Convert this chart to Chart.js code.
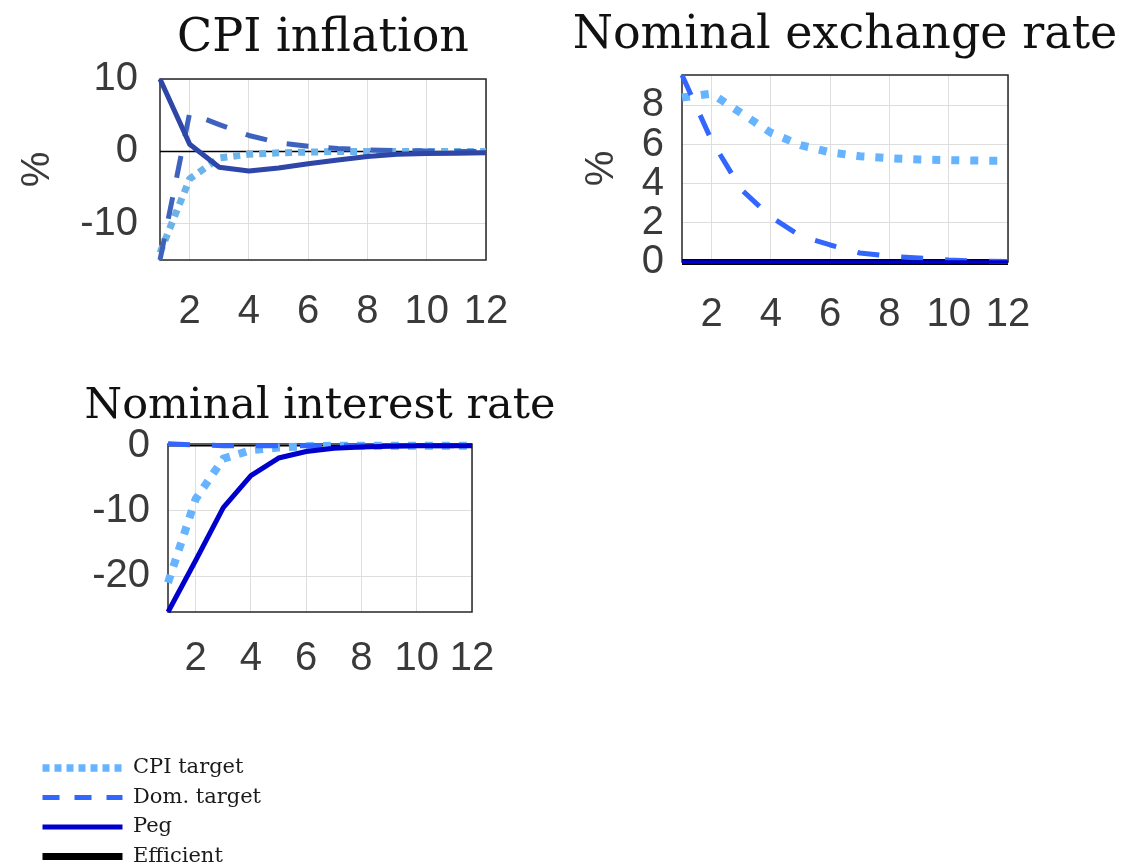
<!DOCTYPE html>
<html><head><meta charset="utf-8">
<script src="https://cdn.jsdelivr.net/npm/chart.js@4.4.1/dist/chart.umd.min.js"></script>
<style>
html,body{margin:0;padding:0;background:#fff;width:1122px;height:866px;overflow:hidden;position:relative;}
canvas{position:absolute;display:block;}
</style></head><body>
<canvas id="c1" width="646" height="345" style="left:0px;top:0px;width:646px;height:345px"></canvas>
<canvas id="c2" width="600" height="345" style="left:545px;top:0px;width:600px;height:345px"></canvas>
<canvas id="c3" width="640" height="310" style="left:0px;top:370px;width:640px;height:310px"></canvas>
<canvas id="c4" width="600" height="140" style="left:34px;top:749px;width:600px;height:140px"></canvas>
<script>
// ---------- data ----------
const periods = [1, 2, 3, 4, 5, 6, 7, 8, 9, 10, 11, 12];
const xTickValues = [2, 4, 6, 8, 10, 12];
const seriesNames = ['CPI target', 'Dom. target', 'Peg', 'Efficient'];

// CPI inflation (%)
const cpiInflation_CPItarget = [-14, -3.8, -0.9, -0.4, -0.2, -0.1, 0, 0, 0, 0, 0, 0];
const cpiInflation_DomTarget = [-15, 5.3, 3.7, 2.2, 1.2, 0.7, 0.4, 0.2, 0.1, 0.05, 0, 0];
const cpiInflation_Peg = [10, 1, -2.2, -2.7, -2.3, -1.7, -1.2, -0.7, -0.4, -0.3, -0.25, -0.2];
const cpiInflation_Efficient = [0, 0, 0, 0, 0, 0, 0, 0, 0, 0, 0, 0];
const cpiInflationTicks = [-10, 0, 10];

// Nominal exchange rate (%)
const exRate_CPItarget = [8.4, 8.6, 7.6, 6.6, 5.97, 5.6, 5.4, 5.3, 5.24, 5.2, 5.18, 5.17];
const exRate_DomTarget = [9.55, 6.2, 3.7, 2.3, 1.33, 0.87, 0.46, 0.3, 0.2, 0.1, 0.05, 0.02];
const exRate_Peg = [0, 0, 0, 0, 0, 0, 0, 0, 0, 0, 0, 0];
const exRate_Efficient = [0, 0, 0, 0, 0, 0, 0, 0, 0, 0, 0, 0];
const exRateTicks = [0, 2, 4, 6, 8];

// Nominal interest rate
const intRate_CPItarget = [-21, -8.2, -2.0, -0.7, -0.3, -0.1, 0, 0, 0, 0, 0, 0];
const intRate_DomTarget = [0.3, 0.1, 0, 0, 0, 0, 0, 0, 0, 0, 0, 0];
const intRate_Peg = [-25.5, -17.6, -9.5, -4.6, -1.9, -0.9, -0.4, -0.2, -0.1, 0, 0, 0];
const intRate_Efficient = [0, 0, 0, 0, 0, 0, 0, 0, 0, 0, 0, 0];
const intRateTicks = [-20, -10, 0];

// ---------- helpers ----------
const pts = arr => arr.map((v, i) => ({x: periods[i], y: v}));
const TICK_FONT = {family: 'Liberation Sans, Arial, sans-serif', size: 40};
const TICK_COLOR = '#3a3a3a';

const framePlugin = {
  id: 'frame',
  beforeDatasetsDraw(chart) {
    const a = chart.chartArea; const ctx = chart.ctx;
    ctx.save(); ctx.strokeStyle = '#262626'; ctx.lineWidth = 1.5;
    ctx.strokeRect(a.left, a.top, a.right - a.left, a.bottom - a.top);
    ctx.restore();
  }
};

function makePanel(id, p) {
  const ds = (label, data, color, width, dash, order) => ({
    label, data: pts(data), borderColor: color, backgroundColor: color,
    borderWidth: width, borderDash: dash, borderCapStyle: 'butt', borderJoinStyle: 'round',
    pointRadius: 0, tension: 0, fill: false, order, clip: 4
  });
  return new Chart(document.getElementById(id), {
    type: 'line',
    data: {datasets: [
      ds(seriesNames[0], p.cpi, p.colors[0], p.widths[0], p.dotDash, 2),
      ds(seriesNames[1], p.dom, p.colors[1], p.widths[1], p.dashDash, 1),
      ds(seriesNames[2], p.peg, p.colors[2], p.widths[2], [], 0),
      ds(seriesNames[3], p.eff, '#000000', p.widths[3], [], 3)
    ]},
    plugins: [framePlugin],
    options: {
      responsive: false, animation: false, devicePixelRatio: 1,
      layout: {padding: 0},
      plugins: {
        legend: {display: false}, tooltip: {enabled: false},
        title: {display: true, text: p.title,
                font: {family: 'DejaVu Serif, serif', size: p.titleSize, weight: 'normal'},
                color: '#111111', fullSize: true, padding: p.titlePad}
      },
      scales: {
        x: {type: 'linear', min: 1, max: 12,
            afterBuildTicks: s => { s.ticks = xTickValues.map(v => ({value: v})); },
            afterFit: s => { s.height = p.xHeight; },
            ticks: {font: TICK_FONT, color: TICK_COLOR, padding: p.xPad, maxRotation: 0, autoSkip: false},
            grid: {color: '#dedede', lineWidth: 1, drawTicks: false},
            border: {display: false}},
        y: {type: 'linear', min: p.yMin, max: p.yMax,
            afterBuildTicks: s => { s.ticks = p.yTicks.map(v => ({value: v})); },
            afterFit: s => { s.width = p.side; },
            ticks: {font: TICK_FONT, color: TICK_COLOR, padding: p.yPad, autoSkip: false},
            grid: {color: '#dedede', lineWidth: 1, drawTicks: false},
            border: {display: false},
            title: {display: p.yTitle !== '', text: p.yTitle, font: TICK_FONT, color: TICK_COLOR,
                    padding: {top: p.yTitlePad, bottom: 0}}},
        yRight: {type: 'linear', position: 'right', display: true, min: p.yMin, max: p.yMax,
            afterFit: s => { s.width = p.side; },
            ticks: {display: false}, grid: {display: false, drawTicks: false}, border: {display: false}}
      }
    }
  });
}

makePanel('c1', {
  title: 'CPI inflation', titleSize: 46,
  cpi: cpiInflation_CPItarget, dom: cpiInflation_DomTarget, peg: cpiInflation_Peg, eff: cpiInflation_Efficient,
  colors: ['#6bb3e8', '#3e63bf', '#2d46a8'], widths: [7, 5, 5, 1.5],
  dotDash: [7, 6], dashDash: [22, 20],
  yMin: -15, yMax: 10, yTicks: cpiInflationTicks,
  titlePad: {top: 11.1, bottom: 12.7}, xHeight: 85, side: 160,
  xPad: 28, yPad: 22, yTitle: '%', yTitlePad: 14
});

makePanel('c2', {
  title: 'Nominal exchange rate', titleSize: 46,
  cpi: exRate_CPItarget, dom: exRate_DomTarget, peg: exRate_Peg, eff: exRate_Efficient,
  colors: ['#66b3ff', '#3366ff', '#0000cc'], widths: [8, 5, 3.5, 6],
  dotDash: [8, 11], dashDash: [22, 22],
  yMin: 0, yMax: 9.55, yTicks: exRateTicks,
  titlePad: {top: 8.1, bottom: 11.7}, xHeight: 83, side: 137,
  xPad: 29, yPad: 18, yTitle: '%', yTitlePad: 33
});

makePanel('c3', {
  title: 'Nominal interest rate', titleSize: 43,
  cpi: intRate_CPItarget, dom: intRate_DomTarget, peg: intRate_Peg, eff: intRate_Efficient,
  colors: ['#66b3ff', '#3366ff', '#0000cc'], widths: [8, 5, 5, 1.5],
  dotDash: [8, 9], dashDash: [22, 22],
  yMin: -25.5, yMax: 0.25, yTicks: intRateTicks,
  titlePad: {top: 10.9, bottom: 11.5}, xHeight: 68, side: 168,
  xPad: 23, yPad: 18, yTitle: '', yTitlePad: 0
});

// ---------- legend ----------
const legendColors = ['#66b3ff', '#3366ff', '#0000cc', '#000000'];
const legendWidths = [7.5, 5, 5, 7];
const legendDashes = [[7, 5], [17, 15], [], []];
new Chart(document.getElementById('c4'), {
  type: 'line',
  data: {datasets: seriesNames.map((n, i) => ({
    label: n, data: [], borderColor: legendColors[i], backgroundColor: legendColors[i],
    borderWidth: legendWidths[i], borderDash: legendDashes[i], borderCapStyle: 'butt', pointRadius: 0
  }))},
  options: {
    responsive: false, animation: false, devicePixelRatio: 1,
    layout: {padding: 0},
    scales: {x: {display: false}, y: {display: false}},
    plugins: {
      tooltip: {enabled: false}, title: {display: false},
      legend: {display: true, position: 'left', align: 'start', maxWidth: 500,
        labels: {usePointStyle: true, pointStyle: 'line', pointStyleWidth: 80, boxHeight: 21,
                 padding: 8.5, color: '#1a1a1a',
                 font: {family: 'DejaVu Serif, serif', size: 21},
                 generateLabels: chart => chart.data.datasets.map((d, i) => ({
                   text: d.label, datasetIndex: i, hidden: false,
                   strokeStyle: d.borderColor, fillStyle: d.borderColor,
                   lineWidth: d.borderWidth, lineDash: d.borderDash, lineCap: 'butt',
                   pointStyle: 'line', fontColor: '#1a1a1a'
                 }))}}
    }
  }
});
</script>
</body></html>
